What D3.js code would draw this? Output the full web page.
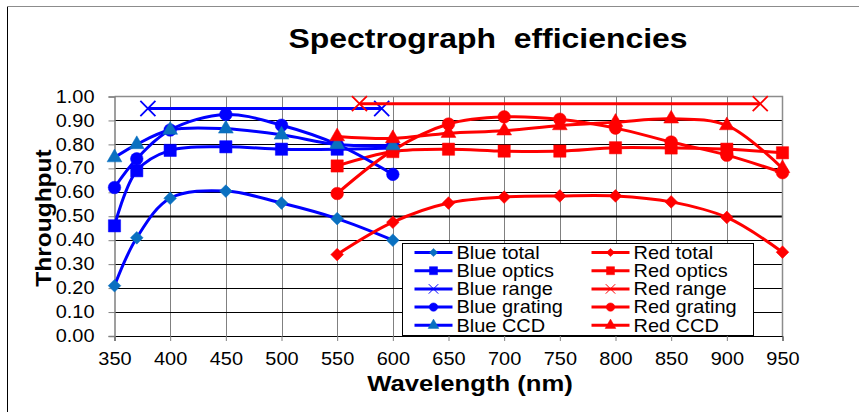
<!DOCTYPE html>
<html>
<head>
<meta charset="utf-8">
<script src="https://cdn.jsdelivr.net/npm/d3@7"></script>
<style>
  body { margin: 0; background: #ffffff; }
  text { font-family: "Liberation Sans", Arial, sans-serif; fill: #000; }
</style>
</head>
<body>
<div id="chart"></div>
<script>
// spectrograph throughput chart (blue + red arms)

const blueWavelengths = [350, 370, 400, 450, 500, 550, 600];
const blueTotal   = [0.21, 0.41, 0.575, 0.605, 0.555, 0.49, 0.40];
const blueOptics  = [0.46, 0.69, 0.775, 0.79, 0.78, 0.78, 0.785];
const blueGrating = [0.62, 0.74, 0.86, 0.925, 0.88, 0.80, 0.675];
const blueCCD     = [0.745, 0.80, 0.86, 0.865, 0.84, 0.80, 0.795];
const blueRangeX  = [380, 590];
const blueRangeY  = [0.95, 0.95];

const redWavelengths = [550, 600, 650, 700, 750, 800, 850, 900, 950];
const redTotal   = [0.34, 0.475, 0.555, 0.58, 0.585, 0.585, 0.56, 0.495, 0.35];
const redOptics  = [0.71, 0.77, 0.78, 0.772, 0.772, 0.786, 0.785, 0.78, 0.765];
const redGrating = [0.595, 0.775, 0.885, 0.915, 0.905, 0.868, 0.81, 0.755, 0.682];
const redCCD     = [0.833, 0.825, 0.847, 0.857, 0.879, 0.893, 0.907, 0.879, 0.70];
const redRangeX  = [570, 930];
const redRangeY  = [0.97, 0.97];

const xTicks = [350, 400, 450, 500, 550, 600, 650, 700, 750, 800, 850, 900, 950];
const yTicks = [0, 0.1, 0.2, 0.3, 0.4, 0.5, 0.6, 0.7, 0.8, 0.9, 1.0];

const BLUE = "#0000ff", TEAL = "#0a70c0", RED = "#ff0000";
const STRETCH = 1.14;

const width = 859, height = 412;
const margin = {top: 96.5, right: 76.5, bottom: 76, left: 114.5};

const svg = d3.select("#chart").append("svg")
    .attr("width", width)
    .attr("height", height)
    .style("display", "block")
    .style("background-color", "#ffffff");

// outer frame bits
svg.append("line").attr("x1", 7.5).attr("x2", 7.5).attr("y1", 6).attr("y2", height)
    .attr("stroke", "#000").attr("stroke-width", 1);
svg.append("line").attr("x1", 7).attr("x2", width).attr("y1", 6.5).attr("y2", 6.5)
    .attr("stroke", "#8c8c8c").attr("stroke-width", 1);

const x = d3.scaleLinear().domain([350, 950]).range([margin.left, width - margin.right]);
const y = d3.scaleLinear().domain([0, 1]).range([height - margin.bottom, margin.top]);

// gridlines
const grid = svg.append("g");
grid.selectAll(".vgrid").data(xTicks.slice(1, -1)).enter().append("line")
    .attr("x1", d => Math.round(x(d)) + 0.5).attr("x2", d => Math.round(x(d)) + 0.5)
    .attr("y1", y(0)).attr("y2", y(1))
    .attr("stroke", "#808080").attr("stroke-width", 1);
grid.selectAll(".hgrid").data(yTicks.slice(1, -1)).enter().append("line")
    .attr("x1", x(350)).attr("x2", x(950))
    .attr("y1", d => Math.round(y(d)) + 0.5).attr("y2", d => Math.round(y(d)) + 0.5)
    .attr("stroke", "#000")
    .attr("stroke-width", d => Math.abs(d - 0.5) < 1e-9 ? 2 : 1);
// top and right border of plot area
svg.append("path")
    .attr("d", `M${x(350)},${y(1)}H${x(950)}V${y(0)}`)
    .attr("fill", "none").attr("stroke", "#8c8c8c").attr("stroke-width", 1.5);

// axes
const xAxis = d3.axisBottom(x).tickValues(xTicks).tickSize(5).tickPadding(12).tickFormat(d3.format("d"));
const gx = svg.append("g").attr("transform", `translate(0,${y(0)})`).call(xAxis);
gx.select(".domain").attr("stroke", "#000");
gx.selectAll(".tick line").attr("stroke", "#808080");
gx.selectAll("text").attr("font-size", 17.5).attr("font-family", "Liberation Sans, Arial")
    .attr("fill", "#000").attr("transform", `scale(${STRETCH},1)`);

const yAxis = d3.axisLeft(y).tickValues(yTicks).tickSize(6).tickPadding(14).tickFormat(d3.format(".2f"));
const gy = svg.append("g").attr("transform", `translate(${x(350)},0)`).call(yAxis);
gy.select(".domain").attr("stroke", "#808080").attr("stroke-width", 1.5);
gy.selectAll(".tick line").attr("stroke", "#808080");
gy.selectAll("text").attr("font-size", 17.5).attr("font-family", "Liberation Sans, Arial")
    .attr("fill", "#000").attr("transform", `scale(${STRETCH},1)`).attr("x", -20 / STRETCH);

// title and axis labels
svg.append("text")
    .attr("transform", `translate(488,48) scale(${STRETCH},1)`)
    .attr("text-anchor", "middle").attr("font-size", 28).attr("font-weight", "bold")
    .attr("xml:space", "preserve")
    .text("Spectrograph  efficiencies");
svg.append("text")
    .attr("transform", `translate(470,391) scale(${STRETCH},1)`)
    .attr("text-anchor", "middle").attr("font-size", 22.5).attr("font-weight", "bold")
    .text("Wavelength (nm)");
svg.append("text")
    .attr("transform", `translate(51,218) rotate(-90) scale(${STRETCH},1)`)
    .attr("text-anchor", "middle").attr("font-size", 21.5).attr("font-weight", "bold")
    .text("Throughput");

// marker shapes
const timesSym = d3.symbolTimes || {
    draw(ctx, size) {
        const r = Math.sqrt(size + Math.min(size / 28, 0.75)) * 0.5;
        ctx.moveTo(-r, -r); ctx.lineTo(r, r);
        ctx.moveTo(-r, r); ctx.lineTo(r, -r);
    }
};
const markers = {
    diamond: {type: d3.symbolSquare, rot: 45, filled: true},
    square: {type: d3.symbolSquare, rot: 0, filled: true},
    times: {type: timesSym, rot: 0, filled: false},
    circle: {type: d3.symbolCircle, rot: 0, filled: true},
    triangle: {type: d3.symbolTriangle, rot: 0, filled: true}
};
const plotSize = {diamond: 80, square: 150, times: 150, circle: 125, triangle: 95};
const legendSize = {diamond: 34, square: 64, times: 60, circle: 56, triangle: 50};

// series in Excel drawing order (interleaved blue/red)
const series = [
    {name: "Blue total", xs: blueWavelengths, ys: blueTotal, color: BLUE, mcolor: TEAL, marker: "diamond"},
    {name: "Red total", xs: redWavelengths, ys: redTotal, color: RED, mcolor: RED, marker: "diamond"},
    {name: "Blue optics", xs: blueWavelengths, ys: blueOptics, color: BLUE, mcolor: BLUE, marker: "square"},
    {name: "Red optics", xs: redWavelengths, ys: redOptics, color: RED, mcolor: RED, marker: "square"},
    {name: "Blue range", xs: blueRangeX, ys: blueRangeY, color: BLUE, mcolor: BLUE, marker: "times"},
    {name: "Red range", xs: redRangeX, ys: redRangeY, color: RED, mcolor: RED, marker: "times"},
    {name: "Blue grating", xs: blueWavelengths, ys: blueGrating, color: BLUE, mcolor: BLUE, marker: "circle"},
    {name: "Red grating", xs: redWavelengths, ys: redGrating, color: RED, mcolor: RED, marker: "circle"},
    {name: "Blue CCD", xs: blueWavelengths, ys: blueCCD, color: BLUE, mcolor: TEAL, marker: "triangle"},
    {name: "Red CCD", xs: redWavelengths, ys: redCCD, color: RED, mcolor: RED, marker: "triangle"}
];

const line = d3.line()
    .x(d => x(d[0]))
    .y(d => y(d[1]))
    .curve(d3.curveCatmullRom.alpha(0.5));

function drawMarker(g, m, size, color, tx, ty, thin) {
    const spec = markers[m];
    g.append("path")
        .attr("d", d3.symbol().type(spec.type).size(size)())
        .attr("transform", `translate(${tx},${ty}) rotate(${spec.rot})`)
        .attr("fill", spec.filled ? color : "none")
        .attr("stroke", color)
        .attr("stroke-width", spec.filled ? 0.5 : thin);
}

const plot = svg.append("g");
series.forEach(s => {
    const pts = s.xs.map((v, i) => [v, s.ys[i]]);
    const g = plot.append("g");
    g.append("path")
        .datum(pts)
        .attr("d", line)
        .attr("fill", "none")
        .attr("stroke", s.color)
        .attr("stroke-width", 3)
        .attr("stroke-linejoin", "round");
    pts.forEach(p => drawMarker(g, s.marker, plotSize[s.marker], s.mcolor, x(p[0]), y(p[1]), 1.8));
});

// legend
const legend = svg.append("g").attr("transform", "translate(402.5,243.5)");
legend.append("rect")
    .attr("width", 351).attr("height", 92)
    .attr("fill", "#fff").attr("stroke", "#000").attr("stroke-width", 1);
series.forEach((s, i) => {
    const col = i % 2, row = Math.floor(i / 2);
    const lx = 12 + col * 177, ly = 9 + row * 18.2;
    const item = legend.append("g").attr("transform", `translate(${lx},${ly})`);
    item.append("line").attr("x1", 0).attr("x2", 38).attr("y1", 0).attr("y2", 0)
        .attr("stroke", s.color).attr("stroke-width", 3);
    drawMarker(item, s.marker, legendSize[s.marker], s.mcolor, 19, 0, 1);
    item.append("text")
        .attr("transform", `translate(42,6.3) scale(${STRETCH},1)`)
        .attr("font-size", 17.5)
        .text(s.name);
});
</script>
</body>
</html>
